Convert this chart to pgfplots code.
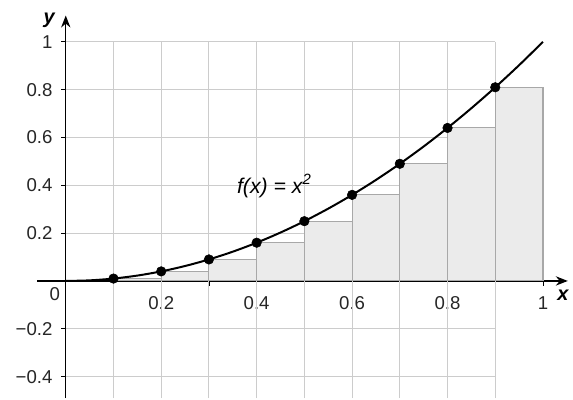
\documentclass[border=0pt]{standalone}
\usepackage{fontspec}
\setmainfont{Liberation Sans}
\usepackage{pgfplots}
\pgfplotsset{compat=1.18}
\usetikzlibrary{arrows.meta}
\definecolor{gridc}{HTML}{CCCCCC}
\definecolor{rectfill}{HTML}{EBEBEB}
\definecolor{rectedge}{HTML}{A8A8A8}
\begin{document}
\begin{tikzpicture}
\begin{axis}[
  set layers,
  x=359.25pt, y=180pt,
  xmin=-0.06, xmax=1.052, ymin=-0.49, ymax=1.11,
  axis lines=middle,
  axis line style={line width=1pt, -{Stealth[length=9pt,width=7pt]}},
  clip=false,
  xtick={0.2,0.4,0.6,0.8,1},
  xticklabels={0.2,0.4,0.6,0.8,1},
  minor xtick={0.1,0.3,0.5,0.7,0.9},
  ytick={-0.4,-0.2,0.2,0.4,0.6,0.8,1},
  yticklabels={−0.4,−0.2,0.2,0.4,0.6,0.8,1},
  tick align=center,
  major tick length=7pt, minor tick length=7pt,
  tick style={black, line width=0.6pt},
  ticklabel style={font=\fontsize{14}{16}\selectfont, text=black!85},
  xticklabel style={yshift=-5pt},
  yticklabel style={xshift=-3pt},
]
% bounding box
\path (axis cs:-0.1378,-0.496) rectangle (axis cs:1.0585,1.175);
% grid
\pgfplotsinvokeforeach{0.1,0.2,0.3,0.4,0.5,0.6,0.7,0.8,0.9}{
  \draw[gridc, line width=0.8pt] (axis cs:#1,-0.49) -- (axis cs:#1,1);
}
\pgfplotsinvokeforeach{-0.4,-0.2,0.2,0.4,0.6,0.8,1}{
  \draw[gridc, line width=0.8pt] (axis cs:0,#1) -- (axis cs:0.9,#1);
}
% rectangles (left endpoints)
\addplot[ybar interval, fill=rectfill, draw=rectedge, line width=0.8pt] coordinates {
  (0.1,0.01) (0.2,0.04) (0.3,0.09) (0.4,0.16) (0.5,0.25)
  (0.6,0.36) (0.7,0.49) (0.8,0.64) (0.9,0.81) (1.0,0.81)
};
% curve f(x)=x^2
\addplot[black, line width=1.5pt, smooth] coordinates {
  (0,0) (0.05,0.0025) (0.1,0.01) (0.15,0.0225) (0.2,0.04) (0.25,0.0625)
  (0.3,0.09) (0.35,0.1225) (0.4,0.16) (0.45,0.2025) (0.5,0.25)
  (0.55,0.3025) (0.6,0.36) (0.65,0.4225) (0.7,0.49) (0.75,0.5625)
  (0.8,0.64) (0.85,0.7225) (0.9,0.81) (0.95,0.9025) (1.0,1.0)
};
% points
\addplot[only marks, mark=*, mark size=3.6pt, black] coordinates {
  (0.1,0.01) (0.2,0.04) (0.3,0.09) (0.4,0.16) (0.5,0.25)
  (0.6,0.36) (0.7,0.49) (0.8,0.64) (0.9,0.81)
};
\node[font=\fontsize{14}{16}\selectfont, text=black!85] at (axis cs:-0.023,-0.055) {0};
\node[font=\fontsize{15}{17}\selectfont\bfseries\itshape] at (axis cs:-0.035,1.09) {y};
\node[font=\fontsize{15}{17}\selectfont\bfseries\itshape] at (axis cs:1.042,-0.06) {x};
\node[font=\fontsize{16}{18}\selectfont\itshape] at (axis cs:0.437,0.397) {f(x) = x\textsuperscript{2}};
\end{axis}
\end{tikzpicture}
\end{document}
